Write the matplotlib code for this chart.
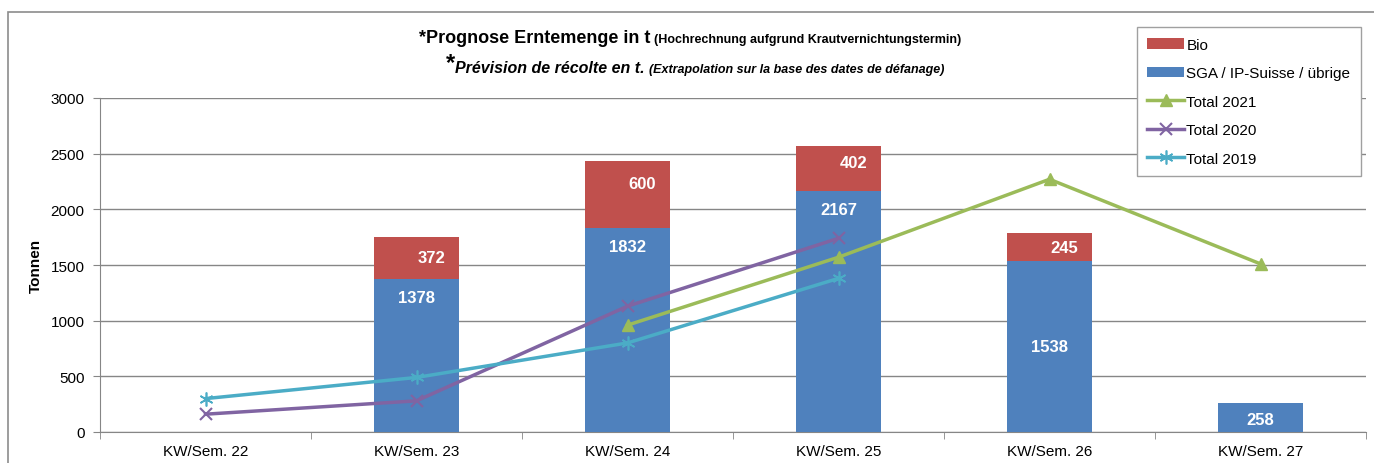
import matplotlib.pyplot as plt
import numpy as np
from matplotlib.patches import Rectangle

plt.rcParams['font.family'] = ['Liberation Sans', 'DejaVu Sans']

# Daten
wochen = ['KW/Sem. 22', 'KW/Sem. 23', 'KW/Sem. 24', 'KW/Sem. 25', 'KW/Sem. 26', 'KW/Sem. 27']
sga = [0, 1378, 1832, 2167, 1538, 258]
bio = [0, 372, 600, 402, 245, 0]
total_2021 = [np.nan, np.nan, 960, 1570, 2270, 1510]
total_2020 = [160, 280, 1130, 1740, np.nan, np.nan]
total_2019 = [300, 490, 800, 1380, np.nan, np.nan]

c_bio = '#C0504D'
c_sga = '#4F81BD'
c_21 = '#9BBB59'
c_20 = '#8064A2'
c_19 = '#4BACC6'
grau = '#868686'

fig = plt.figure(figsize=(13.74, 4.64), dpi=100)
ax = fig.add_axes([100 / 1374, 31 / 464, 1266 / 1374, 334 / 464])

x = np.arange(len(wochen))
breite = 0.4
b_sga = ax.bar(x, sga, breite, color=c_sga, label='SGA / IP-Suisse / übrige', zorder=3)
b_bio = ax.bar(x, bio, breite, bottom=sga, color=c_bio, label='Bio', zorder=3)

l21, = ax.plot(x, total_2021, color=c_21, lw=2.5, marker='^', ms=8, label='Total 2021', zorder=4)
l20, = ax.plot(x, total_2020, color=c_20, lw=2.5, marker='x', ms=9, mew=1.5, label='Total 2020', zorder=4)
l19, = ax.plot(x, total_2019, color=c_19, lw=2.5, marker=(6, 2, 0), ms=10, mew=1.2, label='Total 2019', zorder=4)

# Beschriftungen in den Balken (Lage als Anteil des Segments, None = oben)
sga_pos = [None, None, None, None, 0.5, 0.45]
bio_pos = [0.5, 0.5, 0.67, 0.64, 0.5, 0.5]
for i in range(len(wochen)):
    if sga[i] > 0:
        y = sga[i] - 170 if sga_pos[i] is None else sga[i] * sga_pos[i]
        ax.text(x[i], y, str(sga[i]), color='white', fontsize=12, fontweight='bold',
                ha='center', va='center', zorder=5)
    if bio[i] > 0:
        y = sga[i] + bio[i] * bio_pos[i]
        ax.text(x[i] + 0.07, y, str(bio[i]), color='white', fontsize=12, fontweight='bold',
                ha='center', va='center', zorder=5)

ax.set_xlim(-0.5, len(wochen) - 0.5)
ax.set_ylim(0, 3000)
ax.set_yticks(np.arange(0, 3001, 500))
ax.tick_params(axis='y', labelsize=11, length=5, color=grau, direction='out', pad=6)
ax.set_xticks(x)
ax.set_xticklabels(wochen, fontsize=11)
ax.tick_params(axis='x', which='major', length=0, pad=9)
ax.set_xticks(np.arange(-0.5, len(wochen)), minor=True)
ax.tick_params(axis='x', which='minor', length=5, color=grau)
ax.grid(axis='y', color=grau, lw=1, zorder=0)
for s in ['top', 'right']:
    ax.spines[s].set_visible(False)
for s in ['left', 'bottom']:
    ax.spines[s].set_color(grau)
ax.set_ylabel('Tonnen', fontsize=11, fontweight='bold', labelpad=6)

# Legende
handles = [b_bio, b_sga, l21, l20, l19]
leg = fig.legend(handles=handles, labels=[h.get_label() for h in handles],
                 loc='upper right', bbox_to_anchor=(1361 / 1374, 436 / 464),
                 fontsize=11, frameon=True, fancybox=False, framealpha=1,
                 edgecolor='#A0A0A0', handlelength=2.4, handletextpad=0.15,
                 labelspacing=0.95, borderpad=0.7, borderaxespad=0)
leg.get_frame().set_linewidth(1)

# Titel
fig.text(650 / 1374, 1 - 43 / 464, '*Prognose Erntemenge in t', fontsize=13, fontweight='bold',
         ha='right', va='baseline')
fig.text(654 / 1374, 1 - 43 / 464, '(Hochrechnung aufgrund Krautvernichtungstermin)', fontsize=9,
         fontweight='bold', ha='left', va='baseline')
fig.text(451 / 1374, 1 - 70 / 464, '*', fontsize=17, fontweight='bold', ha='center', va='baseline')
fig.text(645 / 1374, 1 - 73 / 464, 'Prévision de récolte en t.', fontsize=11.5, fontweight='bold',
         style='italic', ha='right', va='baseline')
fig.text(649 / 1374, 1 - 73 / 464, '(Extrapolation sur la base des dates de défanage)', fontsize=9,
         fontweight='bold', style='italic', ha='left', va='baseline')

# Rahmen
fig.patches.append(Rectangle((8 / 1374, -0.1), 1.1, 1.1 - 13 / 464, transform=fig.transFigure,
                             fill=False, edgecolor='#8C8C8C', lw=1.2, zorder=0))

fig.savefig('out.png', dpi=100)
